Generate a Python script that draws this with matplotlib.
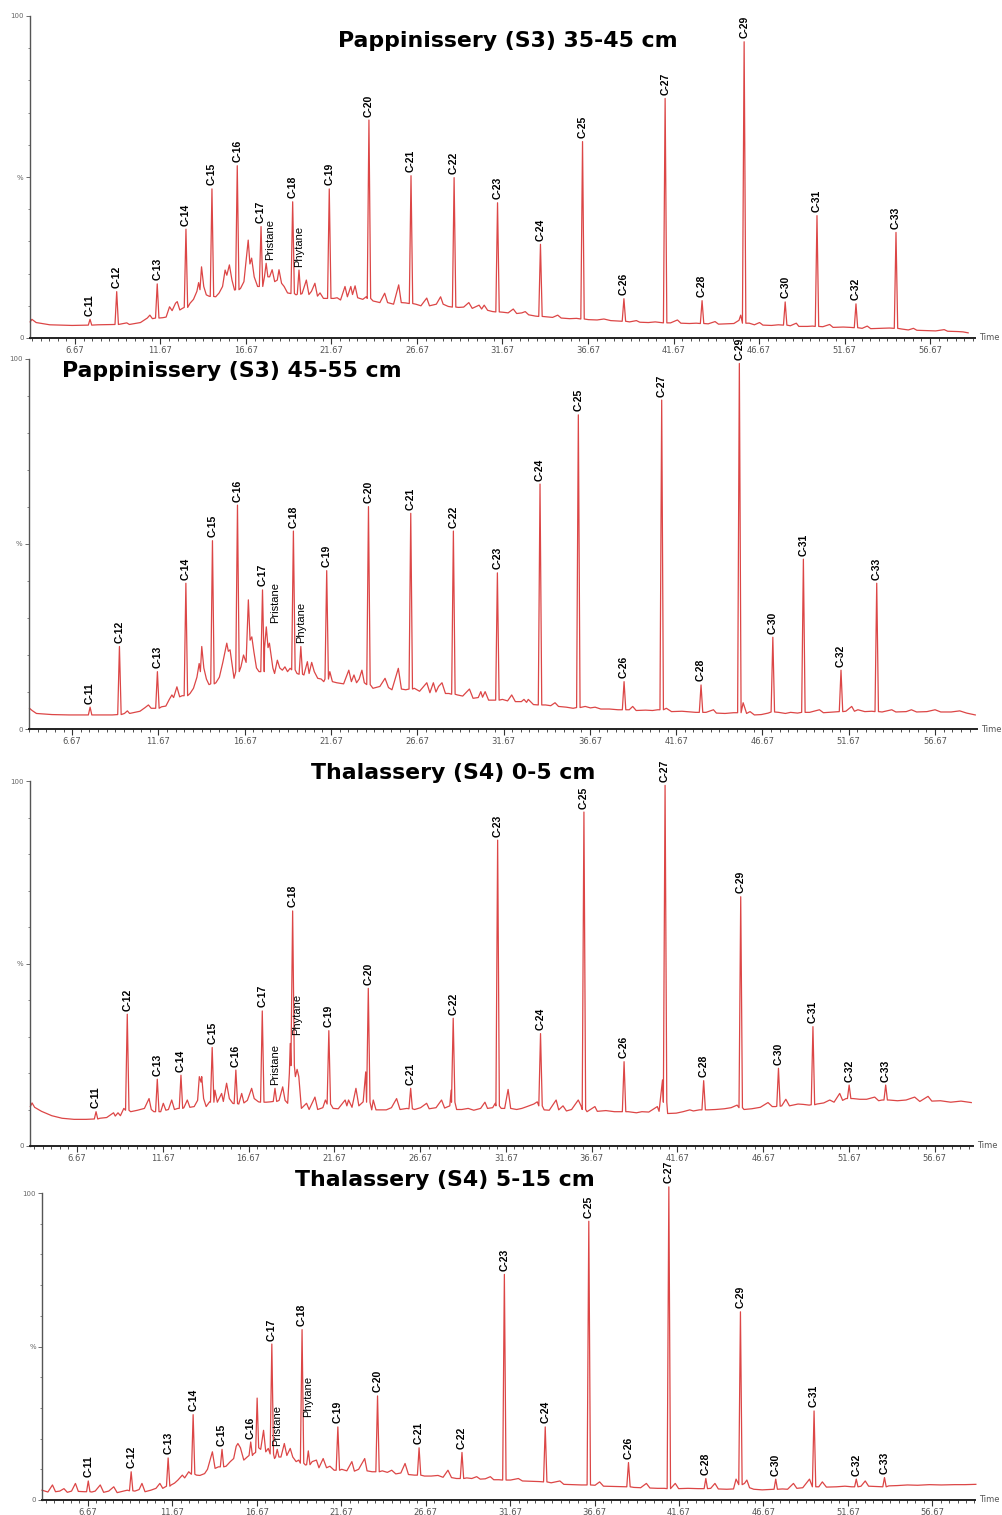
import matplotlib
matplotlib.use("Agg")
import matplotlib.pyplot as plt
import numpy as np

# ---- data ----
PEAK_LABELS = ["C-11", "C-12", "C-13", "C-14", "C-15", "C-16", "C-17", "Pristane",
               "C-18", "Phytane", "C-19", "C-20", "C-21", "C-22", "C-23", "C-24",
               "C-25", "C-26", "C-27", "C-28", "C-29", "C-30", "C-31", "C-32", "C-33"]

TITLES = ["Pappinissery (S3) 35-45 cm", "Pappinissery (S3) 45-55 cm",
          "Thalassery (S4) 0-5 cm", "Thalassery (S4) 5-15 cm"]

X_TICKS = [6.67, 11.67, 16.67, 21.67, 26.67, 31.67, 36.67, 41.67, 46.67, 51.67, 56.67]

# Pappinissery 35-45 cm
p1_pk_t = [7.55, 9.11, 11.48, 13.16, 14.68, 16.16, 17.55, 17.85, 19.40, 19.77, 21.54, 23.86, 26.32,
           28.84, 31.38, 33.89, 36.35, 38.77, 41.18, 43.34, 45.80, 48.20, 50.06, 52.34, 54.68]
p1_pk_h = [5.8, 14.4, 16.8, 33.8, 46.3, 53.5, 34.6, 23.2, 42.3, 21.1, 46.3, 67.7, 50.4,
           49.8, 42.0, 29.1, 61.0, 12.2, 74.4, 11.6, 92.0, 11.2, 38.0, 10.6, 32.8]
p1_pk_b = [4.0, 4.2, 6.2, 9.5, 12.9, 15.0, 16.0, 19.0, 13.8, 13.6, 12.3, 12.3, 10.7,
           9.6, 8.1, 6.7, 5.9, 5.2, 4.7, 4.5, 4.6, 4.0, 3.6, 3.2, 3.0]
p1_bg = [(4.05, 5.0), (4.15, 5.8), (4.4, 4.8), (5.2, 4.1), (6.5, 3.9), (7.3, 4.0), (8.0, 4.1),
         (8.8, 4.2), (9.7, 4.7), (9.85, 4.2), (10.5, 4.8), (10.9, 6.2), (11.05, 7.1), (11.2, 6.0),
         (11.8, 6.3), (12.0, 6.5), (12.2, 9.7), (12.35, 8.5), (12.55, 10.8), (12.65, 11.3),
         (12.8, 8.7), (12.95, 9.2), (13.4, 10.8), (13.6, 12.0), (13.8, 14.5), (13.9, 17.2),
         (13.98, 15.0), (14.07, 22.1), (14.2, 16.0), (14.35, 13.4), (14.5, 13.0), (14.9, 12.8),
         (15.1, 14.0), (15.3, 16.0), (15.45, 21.1), (15.55, 19.5), (15.7, 22.7), (15.85, 18.0),
         (16.0, 14.9), (16.35, 15.4), (16.55, 17.5), (16.8, 30.4), (16.9, 23.0), (17.0, 24.8),
         (17.15, 19.0), (17.35, 16.0), (18.05, 19.0), (18.2, 21.2), (18.35, 17.5), (18.5, 18.0),
         (18.6, 21.2), (18.75, 17.0), (18.9, 16.0), (19.1, 14.0), (19.6, 13.4), (19.95, 13.8),
         (20.2, 18.0), (20.35, 13.5), (20.5, 14.5), (20.7, 17.0), (20.85, 13.0), (21.0, 14.0),
         (21.2, 12.3), (21.8, 12.3), (22.0, 12.5), (22.2, 11.8), (22.46, 16.0), (22.6, 12.8),
         (22.8, 16.0), (22.9, 13.5), (23.05, 16.2), (23.2, 12.5), (23.5, 12.0), (23.7, 12.8),
         (24.1, 11.5), (24.5, 11.0), (24.78, 13.9), (24.95, 11.0), (25.3, 10.5), (25.6, 16.5),
         (25.75, 11.0), (26.0, 10.9), (26.6, 10.5), (26.9, 10.0), (27.24, 12.4), (27.4, 10.0),
         (27.8, 10.5), (28.05, 12.8), (28.2, 10.5), (28.5, 9.8), (29.1, 9.5), (29.4, 9.6),
         (29.7, 11.0), (29.9, 9.2), (30.3, 10.2), (30.45, 9.0), (30.6, 10.2), (30.8, 8.6),
         (31.1, 8.2), (31.7, 8.0), (32.0, 7.8), (32.3, 9.0), (32.5, 7.6), (32.8, 7.8), (33.0, 8.2),
         (33.2, 7.2), (33.6, 6.8), (34.2, 6.6), (34.6, 6.4), (34.9, 7.1), (35.1, 6.2), (35.6, 6.0),
         (36.0, 6.1), (36.7, 5.7), (37.2, 5.6), (37.6, 5.9), (38.0, 5.4), (38.4, 5.3), (39.1, 5.0),
         (39.5, 5.4), (39.7, 4.9), (40.2, 4.8), (40.6, 5.0), (40.9, 4.8), (41.5, 4.7), (41.9, 5.6),
         (42.1, 4.6), (42.6, 4.5), (43.0, 4.6), (43.7, 4.4), (44.1, 5.1), (44.3, 4.3), (44.8, 4.4),
         (45.2, 4.5), (45.5, 5.5), (45.6, 7.1), (46.1, 4.6), (46.4, 4.1), (46.7, 4.8), (46.9, 4.0),
         (47.4, 3.9), (47.8, 4.1), (48.5, 3.8), (48.85, 4.6), (49.0, 3.6), (49.5, 3.6), (49.8, 3.7),
         (50.4, 3.5), (50.8, 4.2), (51.0, 3.3), (51.6, 3.4), (52.0, 3.3), (52.7, 3.0), (53.0, 3.7),
         (53.2, 2.9), (53.8, 3.0), (54.3, 3.1), (55.0, 2.8), (55.4, 2.5), (55.7, 3.0), (55.9, 2.4),
         (56.5, 2.3), (57.0, 2.2), (57.5, 2.6), (57.7, 2.1), (58.3, 2.0), (58.6, 1.9), (58.9, 1.6)]

# Pappinissery 45-55 cm
p2_pk_t = [7.71, 9.41, 11.61, 13.26, 14.80, 16.25, 17.70, 17.92, 19.49, 19.92, 21.42, 23.84, 26.29,
           28.76, 31.31, 33.78, 36.00, 38.65, 40.83, 43.11, 45.33, 47.27, 49.04, 51.22, 53.29]
p2_pk_h = [5.9, 22.3, 15.5, 39.4, 50.9, 60.5, 37.6, 27.6, 53.5, 22.3, 42.8, 60.1, 58.3,
           53.5, 42.2, 66.2, 84.9, 12.8, 88.9, 11.9, 98.8, 24.8, 45.9, 15.9, 39.4]
p2_pk_b = [3.8, 3.9, 5.6, 9.0, 12.2, 15.5, 15.5, 22.0, 16.0, 14.8, 13.5, 12.0, 10.8,
           9.4, 7.8, 6.5, 5.8, 5.2, 5.2, 4.5, 4.4, 4.6, 4.5, 4.7, 4.7]
p2_bg = [(4.2, 5.6), (4.35, 5.0), (4.6, 4.2), (5.5, 3.9), (6.5, 3.8), (7.4, 3.8), (8.0, 3.8),
         (9.0, 3.8), (9.7, 4.2), (9.87, 4.9), (10.0, 4.2), (10.6, 4.8), (10.9, 5.8), (11.09, 6.5),
         (11.25, 5.6), (11.4, 5.6), (11.85, 6.0), (12.1, 6.2), (12.3, 8.0), (12.45, 9.2),
         (12.55, 8.5), (12.74, 11.4), (12.9, 8.7), (13.05, 9.0), (13.5, 9.6), (13.7, 11.0),
         (13.9, 14.0), (14.03, 17.7), (14.1, 15.5), (14.18, 22.3), (14.3, 16.5), (14.45, 13.5),
         (14.6, 12.0), (15.0, 12.5), (15.2, 14.0), (15.4, 18.0), (15.63, 23.2), (15.72, 21.0),
         (15.82, 21.4), (15.95, 17.0), (16.05, 13.7), (16.45, 16.8), (16.6, 20.0), (16.75, 18.0),
         (16.88, 34.9), (16.98, 24.0), (17.08, 24.9), (17.2, 20.9), (17.35, 16.5), (17.5, 15.5),
         (18.1, 23.2), (18.3, 16.5), (18.4, 15.0), (18.56, 18.6), (18.7, 16.5), (18.85, 15.9),
         (19.0, 16.8), (19.15, 15.5), (19.3, 16.4), (19.7, 15.0), (20.1, 14.6), (20.3, 18.2),
         (20.4, 15.0), (20.55, 18.0), (20.7, 15.5), (20.9, 13.7), (21.1, 13.5), (21.25, 12.8),
         (21.6, 15.5), (21.75, 12.8), (22.0, 12.5), (22.4, 12.2), (22.7, 15.9), (22.85, 12.8),
         (23.0, 14.6), (23.15, 12.5), (23.3, 13.5), (23.46, 15.9), (23.6, 12.5), (24.1, 11.0),
         (24.5, 11.5), (24.8, 13.7), (25.0, 11.2), (25.2, 10.6), (25.57, 16.4), (25.75, 10.8),
         (26.0, 10.6), (26.5, 11.0), (26.8, 10.2), (27.22, 12.5), (27.4, 9.8), (27.6, 12.5),
         (27.75, 10.0), (27.9, 11.5), (28.1, 12.5), (28.3, 9.6), (28.5, 9.6), (29.0, 9.2),
         (29.3, 8.9), (29.69, 10.8), (29.9, 8.3), (30.2, 8.5), (30.35, 10.1), (30.45, 8.6),
         (30.6, 10.1), (30.8, 7.8), (31.0, 7.8), (31.6, 8.0), (31.9, 7.6), (32.14, 9.2),
         (32.35, 7.4), (32.7, 7.4), (32.85, 8.0), (33.0, 7.2), (33.1, 8.0), (33.4, 6.6),
         (34.1, 6.5), (34.4, 6.3), (34.65, 7.1), (34.85, 6.1), (35.3, 5.9), (35.7, 5.6),
         (36.4, 6.1), (36.7, 5.7), (36.97, 5.9), (37.3, 5.4), (37.8, 5.4), (38.3, 5.2),
         (38.95, 5.2), (39.15, 6.1), (39.35, 5.0), (39.9, 5.1), (40.3, 5.0), (40.6, 5.2),
         (41.1, 5.6), (41.4, 4.7), (42.0, 4.8), (42.5, 4.6), (42.8, 4.5), (43.4, 4.5),
         (43.83, 5.2), (44.0, 4.3), (44.5, 4.2), (45.0, 4.4), (45.55, 7.1), (45.75, 4.2),
         (45.95, 4.7), (46.2, 3.8), (46.6, 3.9), (47.0, 4.3), (47.6, 4.5), (48.0, 4.2),
         (48.3, 4.5), (48.7, 4.3), (49.4, 4.5), (49.97, 5.2), (50.2, 4.4), (50.8, 4.6),
         (51.5, 4.8), (51.84, 6.1), (52.0, 4.8), (52.2, 5.2), (52.6, 4.7), (53.0, 4.8),
         (53.6, 4.6), (54.16, 5.2), (54.4, 4.6), (55.0, 4.7), (55.3, 5.2), (55.6, 4.6),
         (56.2, 4.7), (56.67, 5.2), (57.0, 4.6), (57.6, 4.6), (58.1, 4.9), (58.5, 4.3), (59.0, 3.8)]

# Thalassery 0-5 cm
p3_pk_t = [7.78, 9.60, 11.35, 12.73, 14.55, 15.93, 17.47, 18.21, 19.24, 19.50, 21.35, 23.65, 26.12,
           28.60, 31.19, 33.69, 36.22, 38.56, 40.95, 43.20, 45.36, 47.56, 49.57, 51.68, 53.81]
p3_pk_h = [9.4, 36.1, 18.3, 19.4, 27.0, 20.8, 37.0, 15.8, 64.4, 21.0, 31.6, 43.2, 15.8,
           35.0, 83.8, 30.8, 91.5, 23.1, 98.8, 17.9, 68.3, 21.3, 32.7, 16.7, 16.7]
p3_pk_b = [7.4, 9.8, 9.4, 10.3, 12.0, 11.6, 12.0, 12.2, 22.0, 19.0, 11.5, 12.0, 10.2,
           12.0, 11.0, 11.0, 10.0, 9.4, 12.0, 9.9, 10.5, 10.9, 11.3, 13.0, 12.6]
p3_bg = [(3.95, 10.8), (4.05, 11.8), (4.2, 10.6), (4.6, 9.5), (5.2, 8.3), (5.8, 7.6), (6.5, 7.3),
         (7.2, 7.3), (7.6, 7.4), (8.0, 7.6), (8.4, 7.8), (8.8, 9.1), (8.9, 8.2), (9.06, 9.1),
         (9.2, 8.3), (9.4, 10.3), (9.8, 9.4), (10.2, 9.8), (10.6, 10.3), (10.87, 13.0), (11.0, 10.0),
         (11.15, 9.4), (11.55, 9.4), (11.7, 11.7), (11.85, 9.8), (12.0, 10.0), (12.19, 12.6),
         (12.35, 10.0), (12.55, 10.3), (12.9, 10.5), (13.1, 12.6), (13.25, 10.6), (13.5, 10.8),
         (13.7, 12.5), (13.8, 19.0), (13.9, 17.5), (13.94, 19.0), (14.05, 13.0), (14.2, 10.8),
         (14.4, 12.1), (14.71, 15.3), (14.85, 12.0), (15.1, 14.4), (15.2, 12.2), (15.39, 17.2),
         (15.55, 13.0), (15.75, 11.7), (16.1, 11.5), (16.27, 14.4), (16.4, 11.8), (16.6, 12.5),
         (16.85, 15.8), (17.0, 13.0), (17.25, 12.1), (17.7, 12.0), (17.95, 12.1), (18.45, 12.5),
         (18.66, 16.2), (18.8, 12.5), (18.95, 11.7), (19.05, 20.0), (19.1, 28.1), (19.75, 10.3),
         (20.05, 11.7), (20.2, 10.0), (20.54, 13.4), (20.7, 10.0), (21.0, 10.5), (21.15, 12.6),
         (21.6, 10.3), (21.9, 10.2), (22.3, 12.6), (22.4, 11.0), (22.5, 12.6), (22.7, 10.6),
         (22.93, 15.8), (23.1, 11.0), (23.35, 12.1), (23.5, 20.3), (23.85, 9.9), (23.94, 12.6),
         (24.1, 9.9), (24.7, 9.9), (25.0, 10.5), (25.3, 13.0), (25.5, 10.0), (25.9, 10.3),
         (26.35, 10.0), (26.7, 10.5), (27.05, 11.7), (27.2, 10.2), (27.6, 10.5), (27.92, 12.6),
         (28.1, 10.4), (28.4, 11.0), (28.48, 15.3), (28.8, 10.0), (29.1, 10.0), (29.47, 10.3),
         (29.8, 9.8), (30.2, 10.3), (30.45, 12.0), (30.6, 10.3), (30.9, 10.5), (31.05, 11.7),
         (31.4, 10.3), (31.6, 10.3), (31.8, 15.5), (31.95, 10.3), (32.3, 10.0), (32.6, 10.3),
         (32.9, 10.8), (33.3, 11.5), (33.5, 12.1), (33.9, 9.9), (34.2, 9.8), (34.6, 12.6),
         (34.75, 9.9), (35.0, 11.0), (35.2, 9.6), (35.5, 10.0), (35.89, 12.6), (36.05, 11.0),
         (36.4, 9.4), (36.86, 10.8), (37.0, 9.5), (37.5, 9.7), (38.0, 9.4), (38.35, 9.4),
         (38.8, 9.4), (39.28, 9.1), (39.6, 9.4), (40.0, 9.3), (40.5, 10.8), (40.6, 9.5),
         (40.8, 18.1), (41.1, 8.9), (41.6, 9.0), (42.0, 9.4), (42.39, 9.9), (42.6, 9.6),
         (42.95, 9.9), (43.45, 9.9), (43.9, 10.0), (44.4, 10.2), (44.8, 10.5), (45.15, 11.2),
         (45.55, 10.0), (46.0, 10.2), (46.5, 10.6), (46.95, 11.9), (47.2, 10.8), (47.4, 10.8),
         (47.75, 11.0), (47.99, 12.8), (48.2, 11.0), (48.7, 11.5), (49.0, 11.4), (49.35, 11.2),
         (49.8, 11.5), (50.2, 11.8), (50.55, 12.6), (50.8, 12.0), (51.13, 14.4), (51.3, 12.5),
         (51.5, 13.0), (51.9, 13.0), (52.3, 12.8), (52.7, 12.8), (53.17, 13.4), (53.4, 12.4),
         (53.6, 12.6), (54.0, 12.6), (54.5, 12.4), (55.0, 12.6), (55.5, 13.4), (55.8, 12.2),
         (56.28, 13.6), (56.5, 12.3), (57.0, 12.4), (57.6, 12.0), (58.2, 12.3), (58.8, 11.9)]

# Thalassery 5-15 cm
p4_pk_t = [6.69, 9.23, 11.42, 12.90, 14.61, 16.31, 17.56, 17.88, 19.35, 19.72, 21.47, 23.82, 26.28,
           28.82, 31.33, 33.75, 36.33, 38.68, 41.07, 43.26, 45.31, 47.40, 49.67, 52.17, 53.84]
p4_pk_h = [6.2, 9.2, 13.7, 27.8, 16.5, 18.9, 50.8, 16.5, 55.5, 16.0, 23.8, 33.9, 17.0,
           15.5, 73.5, 23.8, 90.8, 12.2, 102.0, 7.0, 61.3, 6.8, 29.0, 6.8, 7.3]
p4_pk_b = [2.7, 3.0, 4.5, 8.4, 10.8, 14.5, 15.0, 14.0, 12.0, 11.5, 9.7, 9.2, 8.1,
           7.0, 6.5, 5.9, 4.9, 4.3, 3.7, 3.7, 5.0, 3.5, 4.3, 4.3, 4.3]
p4_bg = [(3.95, 3.2), (4.3, 2.6), (4.57, 4.9), (4.75, 2.7), (5.0, 2.9), (5.25, 3.7), (5.45, 2.5),
         (5.7, 2.9), (5.93, 5.4), (6.1, 2.8), (6.45, 2.7), (6.9, 2.6), (7.1, 2.9), (7.4, 4.9),
         (7.6, 2.5), (7.9, 2.9), (8.2, 4.3), (8.4, 2.4), (8.7, 2.8), (9.0, 3.2), (9.45, 2.9),
         (9.7, 3.4), (9.87, 5.4), (10.05, 2.7), (10.4, 3.2), (10.7, 3.8), (10.93, 5.4), (11.1, 3.8),
         (11.25, 4.3), (11.6, 4.9), (11.8, 5.5), (12.0, 6.5), (12.26, 8.1), (12.4, 7.2),
         (12.64, 9.2), (12.75, 8.6), (13.1, 8.1), (13.3, 8.0), (13.58, 8.6), (13.75, 10.0),
         (13.9, 13.0), (14.04, 15.7), (14.2, 10.3), (14.4, 10.8), (14.85, 11.0), (15.1, 12.5),
         (15.3, 13.5), (15.45, 17.5), (15.55, 18.4), (15.7, 17.0), (15.9, 13.0), (16.1, 14.0),
         (16.47, 15.0), (16.6, 15.5), (16.69, 33.2), (16.78, 17.0), (16.9, 16.5), (17.07, 22.7),
         (17.2, 15.7), (17.35, 16.8), (17.72, 13.5), (18.1, 14.0), (18.3, 18.4), (18.45, 14.5),
         (18.65, 16.8), (18.8, 14.0), (19.0, 12.5), (19.15, 13.0), (19.55, 11.4), (19.95, 12.5),
         (20.2, 13.0), (20.35, 10.5), (20.6, 13.5), (20.8, 10.5), (21.0, 11.0), (21.25, 9.7),
         (21.7, 10.0), (22.0, 9.5), (22.3, 12.5), (22.45, 9.4), (22.7, 10.0), (23.06, 13.5),
         (23.2, 9.5), (23.5, 9.2), (24.1, 9.5), (24.4, 9.0), (24.66, 9.7), (24.9, 8.5),
         (25.2, 8.8), (25.45, 11.9), (25.65, 8.3), (26.0, 8.1), (26.6, 7.8), (27.0, 7.8),
         (27.4, 8.0), (27.7, 7.4), (27.99, 9.7), (28.2, 7.3), (28.5, 7.0), (29.1, 7.2),
         (29.4, 7.0), (29.69, 7.6), (29.9, 6.8), (30.2, 6.9), (30.5, 7.6), (30.7, 6.6),
         (31.0, 6.6), (31.7, 6.5), (32.16, 7.0), (32.4, 6.2), (32.9, 6.1), (33.4, 6.0),
         (34.1, 5.6), (34.62, 6.2), (34.85, 5.1), (35.4, 5.0), (35.9, 4.9), (36.7, 4.8),
         (36.97, 5.9), (37.2, 4.5), (37.8, 4.4), (38.3, 4.3), (39.0, 4.1), (39.4, 4.0),
         (39.74, 5.4), (39.95, 3.9), (40.4, 3.8), (40.8, 3.8), (41.45, 5.4), (41.65, 3.7),
         (42.2, 3.8), (42.8, 3.7), (43.55, 3.8), (43.8, 5.4), (44.0, 3.6), (44.5, 3.5),
         (44.9, 3.6), (45.05, 6.8), (45.55, 5.4), (45.69, 6.5), (45.85, 4.0), (46.1, 3.5),
         (46.6, 3.3), (47.0, 3.4), (47.8, 3.6), (48.1, 3.5), (48.45, 5.4), (48.65, 3.8),
         (49.0, 4.0), (49.4, 6.8), (49.95, 4.3), (50.16, 5.9), (50.4, 4.2), (51.0, 4.3),
         (51.5, 4.5), (51.9, 4.3), (52.45, 4.5), (52.7, 6.2), (52.9, 4.5), (53.3, 4.4),
         (53.6, 4.3), (54.1, 4.6), (54.6, 4.7), (55.2, 4.9), (55.8, 4.8), (56.5, 5.0),
         (57.2, 4.9), (58.0, 5.0), (58.6, 5.0), (59.25, 5.1)]

# labels that float higher than their peak top (panel index, label): extra %
LABEL_LIFT = {(2, "Phytane"): 8.5, (3, "Phytane"): 10.0}
# labels nudged sideways (points) so they clear the neighbouring label
LABEL_SHIFT = {(0, "Pristane"): 3, (1, "Pristane"): 6}

PANEL_DATA = [(p1_bg, p1_pk_t, p1_pk_h, p1_pk_b),
              (p2_bg, p2_pk_t, p2_pk_h, p2_pk_b),
              (p3_bg, p3_pk_t, p3_pk_h, p3_pk_b),
              (p4_bg, p4_pk_t, p4_pk_h, p4_pk_b)]

# ---- layout in pixels: left, right, top(100 %), bottom(0 %), t_left, t_right, title x, title baseline ----
W, H = 1003, 1515
LAYOUT = [(30, 975, 16, 338, 4.04, 59.3, 338, 47),
          (29, 977, 359, 729, 4.18, 59.1, 62, 377),
          (30, 973, 781, 1146, 3.93, 58.9, 311, 779),
          (42, 975, 1193, 1500, 3.95, 59.2, 295, 1186)]

LINE = "#dc4646"
HALF_W = 0.1  # peak half width in minutes


def trace(bg, pk_t, pk_h, pk_b):
    pts = [(t, v) for t, v in bg if min(abs(t - p) for p in pk_t) > HALF_W]
    for t, h, b in zip(pk_t, pk_h, pk_b):
        pts += [(t - HALF_W, b), (t, h), (t + HALF_W, b)]
    pts.sort()
    return [p[0] for p in pts], [p[1] for p in pts]


fig = plt.figure(figsize=(W / 100, H / 100), dpi=100)

for i, ((bg, pk_t, pk_h, pk_b), (l, r, top, bot, t0, t1, tx, ty), title) in enumerate(
        zip(PANEL_DATA, LAYOUT, TITLES)):
    ax = fig.add_axes([l / W, 1 - bot / H, (r - l) / W, (bot - top) / H])
    xs, ys = trace(bg, pk_t, pk_h, pk_b)
    ax.plot(xs, ys, color=LINE, lw=0.9, clip_on=False)
    ax.set_xlim(t0, t1)
    ax.set_ylim(0, 100)

    for t, h, lab in zip(pk_t, pk_h, PEAK_LABELS):
        carbon = lab.startswith("C-")
        ax.annotate(lab, (t, h + LABEL_LIFT.get((i, lab), 0)),
                    xytext=(LABEL_SHIFT.get((i, lab), 0), 2.5),
                    textcoords="offset points", rotation=90, ha="center", va="bottom",
                    fontsize=7.5 if carbon else 8, fontweight="bold" if carbon else "normal",
                    family="Liberation Sans", annotation_clip=False)

    for s in ("top", "right"):
        ax.spines[s].set_visible(False)
    ax.spines["left"].set_color("#555555")
    ax.spines["left"].set_linewidth(1.0)
    ax.spines["bottom"].set_color("#222222")
    ax.spines["bottom"].set_linewidth(1.4)

    ax.set_xticks(X_TICKS)
    ax.set_xticklabels([f"{v:.2f}" for v in X_TICKS])
    ax.set_xticks(np.arange(4.17, t1, 0.5), minor=True)
    ax.tick_params(axis="x", which="major", length=4, width=0.8, color="#333333",
                   labelsize=6, labelcolor="#555555", pad=2)
    ax.tick_params(axis="x", which="minor", length=2, width=0.6, color="#333333")
    ax.set_yticks([0, 50, 100])
    ax.set_yticklabels(["0", "%", "100"])
    ax.set_yticks(np.arange(10, 100, 10), minor=True)
    ax.tick_params(axis="y", which="major", length=3, width=0.6, color="#555555",
                   labelsize=5, labelcolor="#666666", pad=1.5)
    ax.tick_params(axis="y", which="minor", length=1.5, width=0.5, color="#555555")

    ax.text(1.004, 0, "Time", transform=ax.transAxes, ha="left", va="center",
            fontsize=6, color="#555555")

    fig.text(tx / W, 1 - ty / H, title, ha="left", va="baseline",
             fontsize=15.8, fontweight="bold", family="DejaVu Sans")

fig.savefig("out.png", dpi=100, facecolor="white")
